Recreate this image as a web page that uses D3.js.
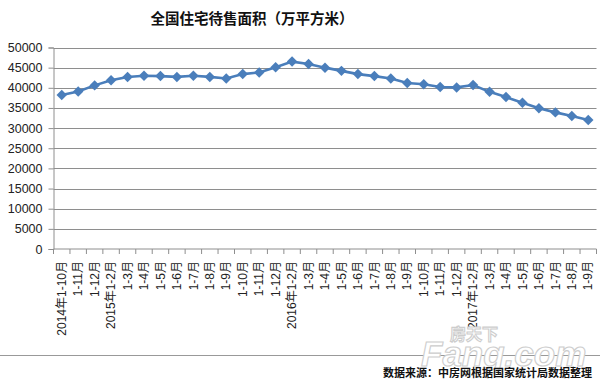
<!DOCTYPE html>
<html>
<head>
<meta charset="utf-8">
<script src="https://cdn.jsdelivr.net/npm/d3@7"></script>
<style>
  body { margin: 0; background: #fff; }
  svg { display: block; }
  text { font-family: "Liberation Sans", "Noto Sans CJK SC", sans-serif; }
</style>
</head>
<body>
<div id="chart"></div>
<script>
const categories = [
    "2014年1-10月", "1-11月", "1-12月",
    "2015年1-2月", "1-3月", "1-4月", "1-5月", "1-6月", "1-7月", "1-8月", "1-9月", "1-10月", "1-11月", "1-12月",
    "2016年1-2月", "1-3月", "1-4月", "1-5月", "1-6月", "1-7月", "1-8月", "1-9月", "1-10月", "1-11月", "1-12月",
    "2017年1-2月", "1-3月", "1-4月", "1-5月", "1-6月", "1-7月", "1-8月", "1-9月"
];
const values = [
    38200, 39100, 40600,
    41900, 42700, 43000, 42900, 42700, 43000, 42700, 42300, 43400, 43800, 45100,
    46500, 45900, 45000, 44200, 43400, 42900, 42300, 41200, 40900, 40200, 40100,
    40700, 39000, 37700, 36300, 34900, 33900, 33000, 32000
];
const yTicks = [0, 5000, 10000, 15000, 20000, 25000, 30000, 35000, 40000, 45000, 50000];

const title = "全国住宅待售面积（万平方米）";
const source = "数据来源：中房网根据国家统计局数据整理";

function drawChart() {
    const width = 600, height = 389;
    const left = 53.5, right = 596.5, top = 47.5, bottom = 249;

    const svg = d3.select("#chart").append("svg")
        .attr("width", width)
        .attr("height", height);

    const x = d3.scaleBand().domain(d3.range(categories.length)).range([left, right]);
    const y = d3.scaleLinear().domain([0, 50000]).range([bottom, top]);

    // title
    svg.append("text")
        .attr("x", 252).attr("y", 24)
        .attr("text-anchor", "middle")
        .style("font-family", "'Noto Sans CJK SC', sans-serif")
        .style("font-size", "14.5px")
        .style("font-weight", "bold")
        .attr("fill", "#111")
        .text(title);

    // gridlines
    svg.append("g").selectAll("line")
        .data(yTicks.filter(d => d > 0))
        .enter().append("line")
        .attr("x1", left).attr("x2", right)
        .attr("y1", d => Math.round(y(d)) + 0.5).attr("y2", d => Math.round(y(d)) + 0.5)
        .attr("stroke", "#8e8e8e").attr("stroke-width", 1);

    // y axis
    const yAxis = svg.append("g")
        .attr("transform", `translate(${left},0)`)
        .call(d3.axisLeft(y).tickValues(yTicks).tickSize(5).tickPadding(6).tickFormat(d3.format("d")));
    yAxis.selectAll("path, line").attr("stroke", "#8e8e8e");
    yAxis.selectAll("text").style("font-size", "12.5px").attr("fill", "#222");

    // x axis with ticks between categories
    const xAxis = svg.append("g").attr("transform", `translate(0,${bottom})`);
    xAxis.append("line")
        .attr("x1", left).attr("x2", right)
        .attr("stroke", "#8e8e8e");
    const bounds = d3.range(categories.length + 1).map(i => left + i * x.step());
    xAxis.selectAll(".tick")
        .data(bounds)
        .enter().append("line")
        .attr("x1", d => d).attr("x2", d => d)
        .attr("y1", 0).attr("y2", 5)
        .attr("stroke", "#8e8e8e");
    xAxis.selectAll(".lbl")
        .data(categories)
        .enter().append("text")
        .attr("transform", (d, i) => `translate(${x(i) + x.bandwidth() / 2},${12}) rotate(-90)`)
        .attr("text-anchor", "end")
        .attr("dy", "0.35em")
        .style("font-size", "12px")
        .attr("fill", "#222")
        .text(d => d);

    // line + markers
    const line = d3.line()
        .x((d, i) => x(i) + x.bandwidth() / 2)
        .y(d => y(d));
    svg.append("path")
        .datum(values)
        .attr("d", line)
        .attr("fill", "none")
        .attr("stroke", "#4a7ebb")
        .attr("stroke-width", 2.6);
    svg.append("g").selectAll("path")
        .data(values)
        .enter().append("path")
        .attr("d", d3.symbol().type(d3.symbolDiamond2).size(70))
        .attr("transform", (d, i) => `translate(${x(i) + x.bandwidth() / 2},${y(d)})`)
        .attr("fill", "#4a7ebb");

    // divider line
    svg.append("line")
        .attr("x1", 0).attr("x2", width)
        .attr("y1", 355.5).attr("y2", 355.5)
        .attr("stroke", "#999");

    // watermark
    const wm = svg.append("g").attr("fill", "#fff").attr("stroke", "#cdcdcd").attr("stroke-width", 1.1);
    wm.append("text")
        .attr("x", 450).attr("y", 340)
        .style("font-family", "'Noto Sans CJK SC', sans-serif")
        .style("font-size", "16px").style("font-weight", "bold")
        .text("房天下");
    wm.append("text")
        .attr("x", 421).attr("y", 366)
        .style("font-size", "35px").style("font-weight", "bold").style("font-style", "italic")
        .text("Fang.com");

    // source
    svg.append("text")
        .attr("x", 592).attr("y", 377)
        .attr("text-anchor", "end")
        .style("font-family", "'Noto Sans CJK SC', sans-serif")
        .style("font-size", "11px").style("font-weight", "bold")
        .attr("fill", "#111")
        .text(source);
}

window.addEventListener("load", () => {
    drawChart();
});
</script>
</body>
</html>
